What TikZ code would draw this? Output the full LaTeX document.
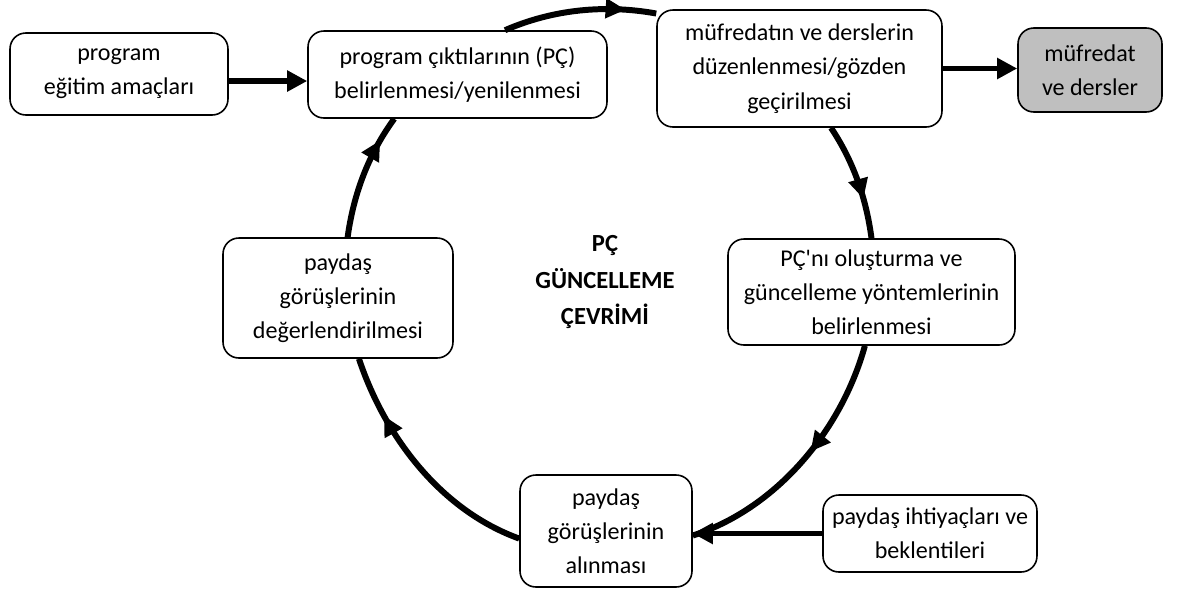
\documentclass[tikz,border=0pt]{standalone}
\usepackage{fontspec}
\setmainfont{Carlito}
\usepackage{tikz}
\usetikzlibrary{arrows.meta,decorations.markings}
\tikzstyle{kutu}=[draw, rounded corners=9pt, line width=0.9pt, fill=white, align=center, inner sep=0pt, font=\fontsize{13.7}{19.5}\selectfont]
\tikzstyle{ok}=[line width=3.4pt, -{Triangle[length=4mm,width=4mm]}]
\tikzset{cevrim/.style={draw, line width=3.4pt, looseness=0.88,
    decoration={markings, mark=at position #1 with {\arrow{Triangle[length=4mm,width=3.8mm]}}},
    postaction={decorate}}}
\newcommand{\kutu}{\node[kutu]}

\begin{document}
\begin{tikzpicture}[x=0.02cm, y=-0.02cm]
\useasboundingbox (0,0) rectangle (1191,592);

\kutu[minimum width=4.36cm, minimum height=1.64cm] (prog) at (119,74) {program\\eğitim amaçları};
    \kutu[minimum width=5.98cm, minimum height=1.74cm] (pc) at (457.5,74.5) {program çıktılarının (PÇ)\\belirlenmesi/yenilenmesi};
    \kutu[minimum width=5.7cm, minimum height=2.34cm] (mufr) at (799.5,68.5) {müfredatın ve derslerin\\düzenlenmesi/gözden\\geçirilmesi};
    \kutu[minimum width=2.88cm, minimum height=1.68cm, fill=black!25] (ders) at (1090,70) {müfredat\\ve dersler};
    \kutu[minimum width=5.74cm, minimum height=2.12cm] (yontem) at (871.5,292) {PÇ\textquotesingle nı oluşturma ve\\güncelleme yöntemlerinin\\belirlenmesi};
    \kutu[minimum width=3.44cm, minimum height=2.24cm] (alin) at (606,531) {paydaş\\görüşlerinin\\alınması};
    \kutu[minimum width=4.28cm, minimum height=1.54cm] (ihtiyac) at (930,533.5) {paydaş ihtiyaçları ve\\beklentileri};
    \kutu[minimum width=4.6cm, minimum height=2.4cm] (deger) at (338,298) {paydaş\\görüşlerinin\\değerlendirilmesi};
    \node[align=center, font=\fontsize{14}{21}\selectfont\bfseries] (baslik) at (605,282) {PÇ\\GÜNCELLEME\\ÇEVRİMİ};
    ;
    % cevrim oklari
    \path
    (pc.43) edge[cevrim=0.8, out=23.5, in=169.8] (mufr.159)
    (mufr.298) edge[cevrim=0.66, out=-56.3, in=97.6] (yontem.north)
    (yontem.263) edge[cevrim=0.45, out=-105.5, in=18] (alin.357)
    (alin.185) edge[cevrim=0.75, out=160.1, in=-71.5] (deger.289)
    (deger.81) edge[cevrim=0.8, out=82.2, in=233.9] (pc.215)
    ;
    \draw[ok] ([yshift=-4pt]prog.east) -- ([yshift=-4pt]prog.east -| pc.west);
    \draw[ok] (mufr.east) -- (mufr.east -| ders.west);
    \draw[ok] (ihtiyac.west) -- (ihtiyac.west -| alin.east);
\end{tikzpicture}
\end{document}
